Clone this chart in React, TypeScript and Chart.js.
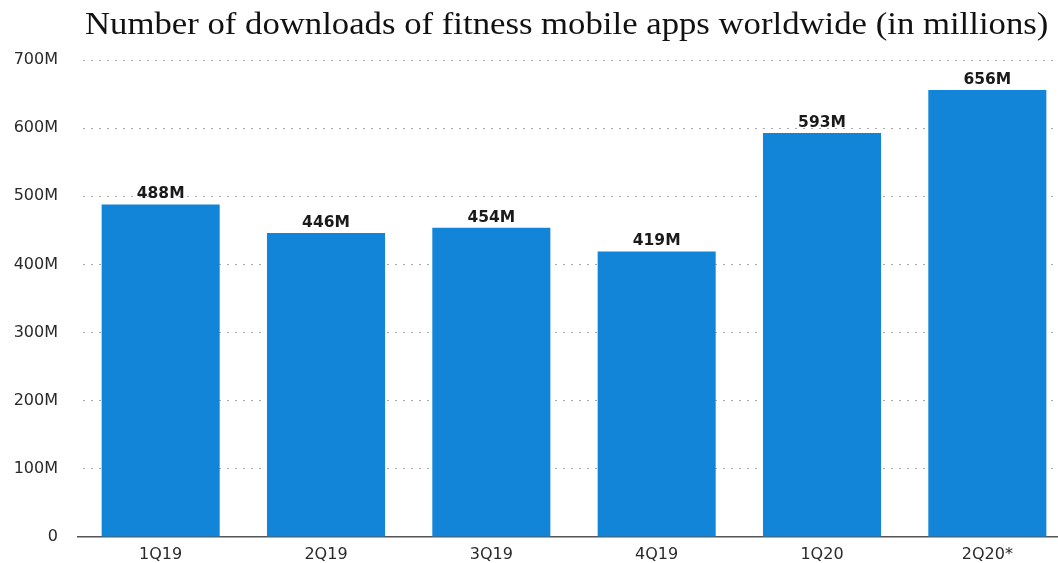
import React, { useEffect, useRef } from "react";
import { Chart, registerables } from "chart.js";

Chart.register(...registerables);

const TITLE = "Number of downloads of fitness mobile apps worldwide (in millions)";
const categories = ["1Q19", "2Q19", "3Q19", "4Q19", "1Q20", "2Q20*"];
const downloads = [488, 446, 454, 419, 593, 656];
const yTickValues = [0, 100, 200, 300, 400, 500, 600, 700];
const barColor = "#1385d8";
const SANS = "'DejaVu Sans', Verdana, sans-serif";

const valueLabels = {
  id: "valueLabels",
  afterDatasetsDraw(chart: any) {
    const { ctx } = chart;
    const meta = chart.getDatasetMeta(0);
    ctx.save();
    ctx.font = `bold 15.5px ${SANS}`;
    ctx.fillStyle = "#1a1a1a";
    ctx.textAlign = "center";
    ctx.textBaseline = "alphabetic";
    meta.data.forEach((el: any, i: number) => {
      ctx.fillText(`${downloads[i]}M`, el.x, el.y - 6);
    });
    ctx.restore();
  },
};

export default function App() {
  const ref = useRef<HTMLCanvasElement>(null);
  useEffect(() => {
    if (!ref.current) return;
    const chart = new Chart(ref.current, {
      type: "bar",
      data: {
        labels: categories,
        datasets: [
          {
            data: downloads,
            backgroundColor: barColor,
            borderWidth: 0,
            categoryPercentage: 1,
            barPercentage: 0.714,
          },
        ],
      },
      options: {
        animation: false,
        responsive: false,
        maintainAspectRatio: false,
        layout: { padding: { top: 60, right: 0, left: 0, bottom: 0 } },
        plugins: { legend: { display: false }, title: { display: false }, tooltip: { enabled: false } },
        scales: {
          x: {
            grid: { display: false, drawTicks: false },
            border: { display: true, color: "#555", width: 1.5 },
            ticks: {
              color: "#2a2a2a",
              padding: 8,
              font: { family: SANS, size: 16 },
            },
            afterFit(scale: any) {
              scale.height = 30;
            },
          },
          y: {
            min: 0,
            max: 700,
            afterBuildTicks(scale: any) {
              scale.ticks = yTickValues.map((v) => ({ value: v }));
            },
            grid: {
              drawTicks: false,
              color: (c: any) => (c.tick && c.tick.value === 0 ? "rgba(0,0,0,0)" : "#aaaaaa"),
              lineWidth: 1,
            },
            border: { display: false, dash: [2, 6], dashOffset: -5 },
            ticks: {
              color: "#2a2a2a",
              padding: 20,
              font: { family: SANS, size: 16 },
              callback: (v: any) => (v === 0 ? "0" : `${v}M`),
            },
            afterFit(scale: any) {
              scale.width = 78;
            },
          },
        },
      },
      plugins: [valueLabels],
    });
    return () => chart.destroy();
  }, []);

  return (
    <div
      style={{
        position: "fixed",
        left: 0,
        top: 0,
        width: 1058,
        height: 563,
        overflow: "hidden",
        background: "#fff",
      }}
    >
      <canvas ref={ref} width={1070} height={567} style={{ position: "absolute", left: 0, top: 0, width: 1070, height: 567 }} />
      <div
        style={{
          position: "absolute",
          left: 85,
          top: 8,
          fontFamily: "'Liberation Serif', 'Times New Roman', serif",
          fontSize: 31,
          lineHeight: "31px",
          color: "#111",
          whiteSpace: "nowrap",
          transform: "scaleX(1.12)",
          transformOrigin: "left top",
        }}
      >
        {TITLE}
      </div>
    </div>
  );
}
